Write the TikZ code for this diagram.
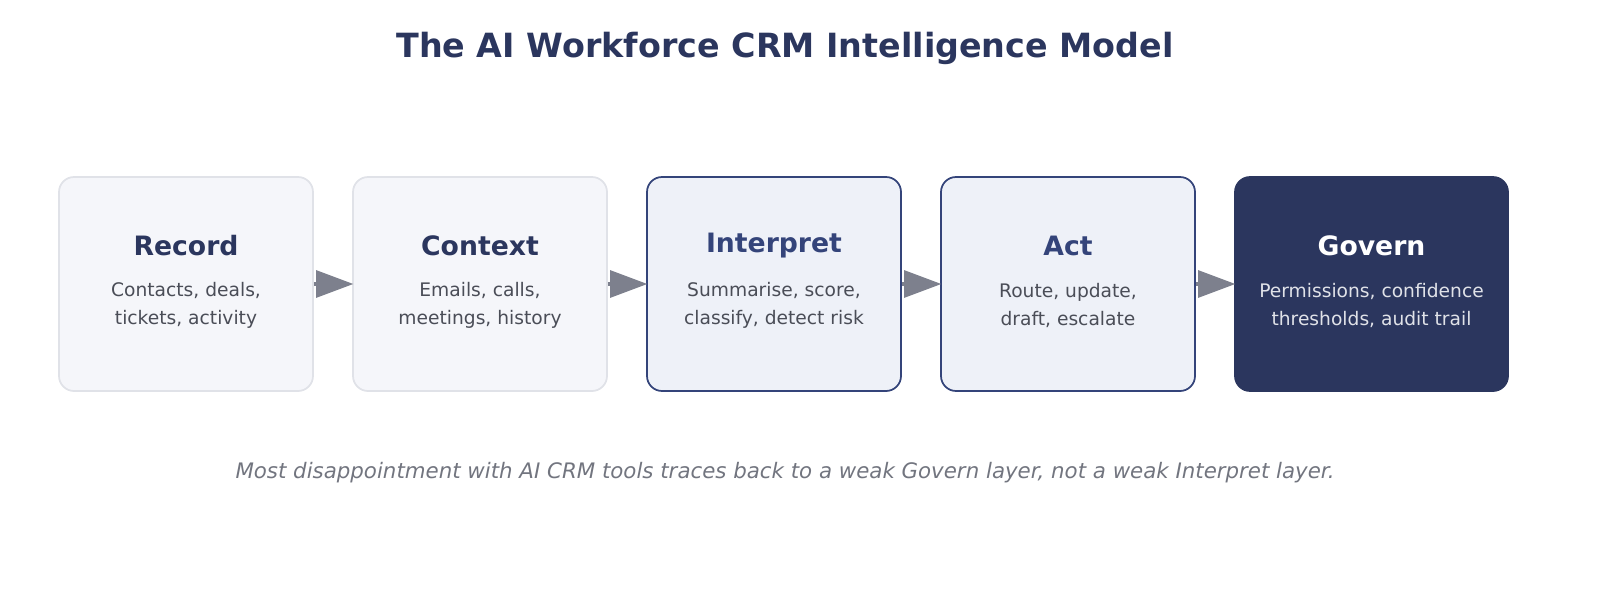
\documentclass[tikz,border=0pt]{standalone}
\usepackage{fontspec}
\setmainfont{DejaVu Sans}
\usetikzlibrary{arrows.meta}
\definecolor{navy}{HTML}{2B365E}
\definecolor{navyt}{HTML}{34447A}
\definecolor{pale}{HTML}{F5F6FA}
\definecolor{palebd}{HTML}{E0E2E8}
\definecolor{blu}{HTML}{EEF1F8}
\definecolor{txt}{HTML}{4A4D57}
\definecolor{arr}{HTML}{7D808D}
\definecolor{cap}{HTML}{72757F}
\begin{document}
\begin{tikzpicture}[x=0.75pt,y=-0.75pt,
  box/.style={rounded corners=15pt*0.75, line width=1.3pt, minimum height=214*0.75pt, inner sep=0pt},
  ttl/.style={font=\bfseries\fontsize{20}{24}\selectfont},
  sub/.style={font=\fontsize{14}{21}\selectfont, align=center},
  con/.style={arr, line width=3pt, -{Triangle[length=28pt,width=20pt]}}]
\useasboundingbox (0,0) rectangle (1600,600);
\node[font=\bfseries\fontsize{25}{30}\selectfont, text=navy] (title) at (785,48) {The AI Workforce CRM Intelligence Model};
\node[box, fill=pale, draw=palebd, minimum width=254*0.75pt] (b1) at (186,284) {};
\node[box, fill=pale, draw=palebd, minimum width=254*0.75pt] (b2) at (480,284) {};
\node[box, fill=blu, draw=navyt, minimum width=254*0.75pt] (b3) at (774,284) {};
\node[box, fill=blu, draw=navyt, minimum width=254*0.75pt] (b4) at (1068,284) {};
\node[box, fill=navy, draw=navy, minimum width=273*0.75pt] (b5) at (1371.5,284) {};
\node[ttl, text=navy] (t1) at (186,246) {Record};
\node[sub, text=txt] (s1) at (186,305) {Contacts, deals,\\tickets, activity};
\node[ttl, text=navy] (t2) at (480,246) {Context};
\node[sub, text=txt] (s2) at (480,305) {Emails, calls,\\meetings, history};
\node[ttl, text=navyt] (t3) at (774,246) {Interpret};
\node[sub, text=txt] (s3) at (774,305) {Summarise, score,\\classify, detect risk};
\node[ttl, text=navyt] (t4) at (1068,246) {Act};
\node[sub, text=txt] (s4) at (1068,305) {Route, update,\\draft, escalate};
\node[ttl, text=white] (t5) at (1371.5,246) {Govern};
\node[sub, text=palebd] (s5) at (1371.5,305) {Permissions, confidence\\thresholds, audit trail};
\foreach \a/\b in {b1/b2,b2/b3,b3/b4,b4/b5}
  \draw[con, shorten >=-1pt] (\a.east) -- (\b.west);
\node[font=\itshape\fontsize{16}{20}\selectfont, text=cap] (cap) at (785,473) {Most disappointment with AI CRM tools traces back to a weak Govern layer, not a weak Interpret layer.};
\end{tikzpicture}
\end{document}
